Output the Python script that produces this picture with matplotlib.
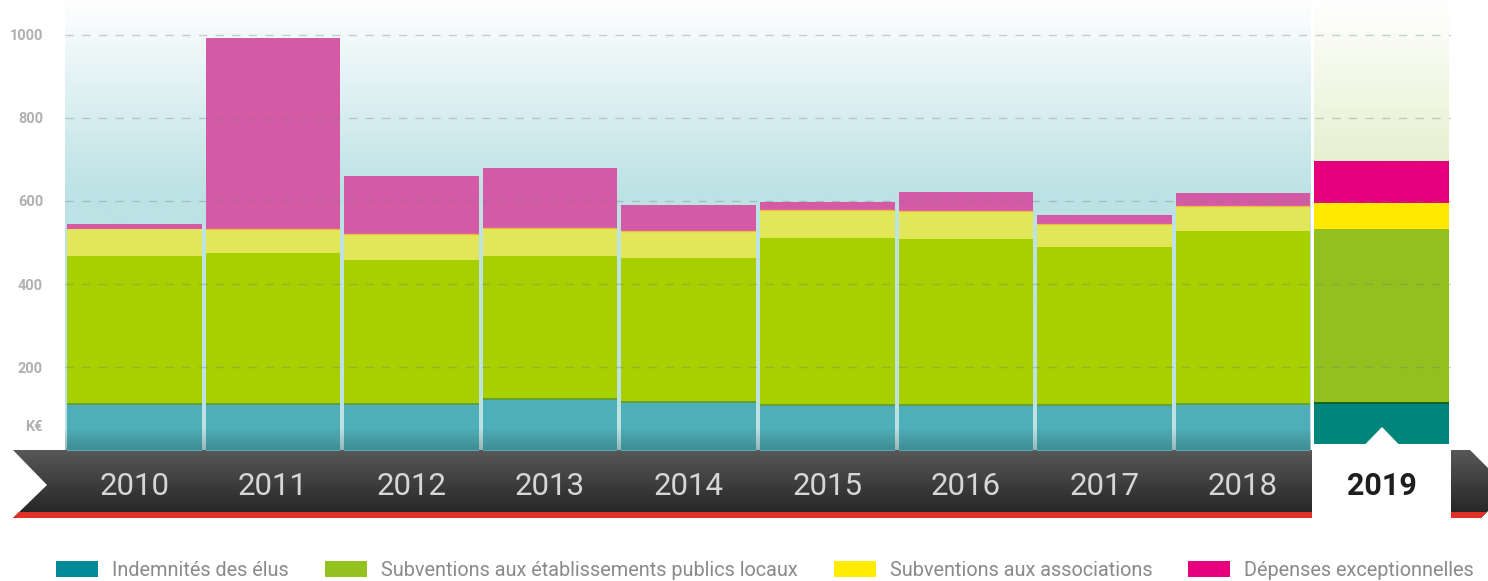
import numpy as np
import matplotlib
matplotlib.use('Agg')
import matplotlib.pyplot as plt
from matplotlib.patches import Polygon, Rectangle
from matplotlib.colors import LinearSegmentedColormap

# data (K€)
years = ['2010', '2011', '2012', '2013', '2014', '2015', '2016', '2017', '2018', '2019']
indemnites = [112, 112, 112, 124, 116, 109, 109, 109, 112, 114]
subv_epl = [355, 363, 346, 343, 347, 402, 399, 380, 416, 418]
subv_assoc = [65, 57, 62, 68, 65, 67, 67, 55, 60, 63]
depenses = [12, 460, 140, 144, 62, 19, 46, 22, 31, 101]
series_names = ['Indemnités des élus', 'Subventions aux établissements publics locaux',
                'Subventions aux associations', 'Dépenses exceptionnelles']
y_ticks = [200, 400, 600, 800, 1000]

past_colors = ['#4fafb9', '#a8cf00', '#e2e75a', '#d55aa5']
now_colors = ['#00857a', '#94c01f', '#ffe900', '#e5007e']
legend_colors = ['#008b96', '#94c11f', '#ffec00', '#e5007d']

LEG_FONT, LEG_SIZE = 'Roboto', 14.3

W, H = 1488, 581
fig = plt.figure(figsize=(W / 100, H / 100), dpi=100)

# pixel axes behind everything: the timeline ribbon
bg = fig.add_axes([0, 0, 1, 1], zorder=0)
ribbon = Polygon([(13, 450), (1470, 450), (1489, 469), (1489, 510), (1481, 518), (13, 518), (47, 485)],
                 closed=True, fc='none', ec='none')
bg.add_patch(ribbon)
dark = LinearSegmentedColormap.from_list('dark', ['#585858', '#222222'])
im = bg.imshow(np.linspace(0, 1, 100).reshape(-1, 1), cmap=dark, extent=(0, W, 518, 450), aspect='auto')
im.set_clip_path(ribbon)
bg.add_patch(Polygon([(19, 512), (1487, 512), (1481, 518), (13, 518)], closed=True, fc='#e03127', ec='none'))
bg.set_xlim(0, W)
bg.set_ylim(H, 0)
bg.axis('off')

# main chart axes
L, R, B0 = 65, 1451, 450.5
ax = fig.add_axes([L / W, (H - B0) / H, (R - L) / W, B0 / H], zorder=1)
ax.patch.set_alpha(0)
ax.set_axisbelow(False)
ymax = 1083

sky = LinearSegmentedColormap.from_list('sky', [(0, '#bde2e5'), (620 / ymax, '#bde2e5'), (1, '#ffffff')])
ax.imshow(np.linspace(0, 1, 256).reshape(-1, 1), origin='lower', cmap=sky,
          extent=(-0.5, 8.485, 0, ymax), aspect='auto', zorder=0)
meadow = LinearSegmentedColormap.from_list('meadow', [(0, '#e6f0d0'), (700 / ymax, '#e6f0d0'), (1, '#ffffff')])
ax.imshow(np.linspace(0, 1, 256).reshape(-1, 1), origin='lower', cmap=meadow,
          extent=(8.515, 9.485, 0, ymax), aspect='auto', zorder=0)

x = np.arange(len(years))
wbar = 0.97
bottom = np.zeros(len(years))
for k, vals in enumerate([indemnites, subv_epl, subv_assoc, depenses]):
    cols = [past_colors[k]] * 9 + [now_colors[k]]
    ax.bar(x, vals, width=wbar, bottom=bottom, color=cols, linewidth=0, zorder=2)
    bottom = bottom + np.array(vals)

# thin seams between segments
seam1 = np.array(indemnites)
ax.hlines(seam1, x - wbar / 2, x + wbar / 2, colors=['#5f9f2c'] * 9 + ['#0b5d2a'], lw=1.3, zorder=2.3)
seam3 = np.array(indemnites) + np.array(subv_epl) + np.array(subv_assoc)
ax.hlines(seam3[1:9], x[1:9] - wbar / 2, x[1:9] + wbar / 2, colors='#f0b040', lw=1, alpha=0.8, zorder=2.3)

# dashed grid over the bars
ax.hlines(y_ticks, -0.5, 9.5, colors='#6f8082', alpha=0.35, lw=1, linestyles=(0, (6, 6)), zorder=3)

# darker fade at the foot of past bars
fade = np.zeros((64, 1, 4))
fade[:, 0, 3] = np.linspace(0.2, 0, 64)
ax.imshow(fade, origin='lower', extent=(-0.5, 8.485, 0, 55), aspect='auto', zorder=4)

# white tab under 2019 with its notch
ax.add_patch(Rectangle((1312, 444), 139, 77, transform=bg.transData, fc='white', ec='none',
                       clip_on=False, zorder=2.4))
ax.add_patch(Polygon([(1365, 444.5), (1382, 427), (1399, 444.5)], transform=bg.transData,
                     fc='white', ec='none', clip_on=False, zorder=2.4))

ax.set_xlim(-0.5, 9.5)
ax.set_ylim(0, ymax)
for s in ax.spines.values():
    s.set_visible(False)

ax.set_xticks(x, years)
ax.tick_params(axis='x', length=0, pad=32, labelsize=22.5, labelcolor='#d6d6d6')
for lab in ax.get_xticklabels():
    lab.set_fontfamily('Roboto')
    lab.set_va('baseline')
last = ax.get_xticklabels()[-1]
last.set_color('#1e1e1e')
last.set_fontweight('bold')
last.set_fontsize(22)

ax.set_yticks(y_ticks, [str(v) for v in y_ticks])
ax.tick_params(axis='y', length=0, pad=15.8, labelsize=10.5, labelcolor='#b0b0b0')
for lab in ax.get_yticklabels():
    lab.set_fontfamily('Roboto')
    lab.set_fontweight('bold')
ax.annotate('K€', xy=(0, 57), xycoords=('axes fraction', 'data'), xytext=(-15.8, 0),
            textcoords='offset points', ha='right', va='center', fontsize=10.5,
            color='#b0b0b0', fontweight='bold', family='Roboto')

# legend
fs_px = LEG_SIZE * 100 / 72
handles = [Rectangle((0, 0), 1, 1, fc=c, ec='none') for c in legend_colors]
leg = fig.legend(handles, series_names, loc='center left', bbox_to_anchor=(56 / W, 1 - 570.5 / H),
                 ncol=4, frameon=False, handlelength=42 / fs_px, handleheight=16 / fs_px,
                 handletextpad=14 / fs_px, columnspacing=36 / fs_px, borderpad=0, borderaxespad=0,
                 prop={'family': LEG_FONT, 'size': LEG_SIZE})
for t in leg.get_texts():
    t.set_color('#8a8a8a')

fig.savefig('out.png', dpi=100)
